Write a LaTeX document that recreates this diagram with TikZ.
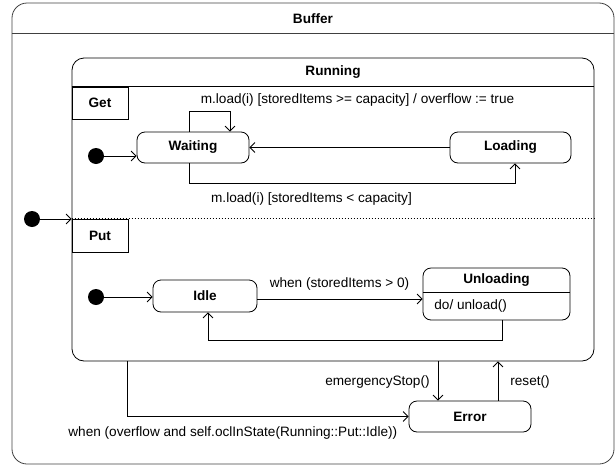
\documentclass[tikz,border=0pt]{standalone}
\usepackage{fontspec}
\setmainfont{Liberation Sans}
\usetikzlibrary{arrows.meta}

\begin{document}
\begin{tikzpicture}[x=1pt,y=-1pt,line width=0.8pt,font=\fontsize{13.6}{16}\selectfont,
  state/.style={draw, rounded corners=8pt, minimum height=31pt, inner sep=0pt, font=\fontsize{13.6}{16}\selectfont\bfseries},
  initial/.style={circle, fill=black, minimum size=16pt, inner sep=0pt},
  tab/.style={draw, minimum width=56pt, inner sep=0pt, font=\fontsize{13.6}{16}\selectfont\bfseries},
  title/.style={font=\fontsize{13.6}{16}\selectfont\bfseries, inner sep=0pt},
  lbl/.style={inner sep=0pt},
  trans/.style={-{Straight Barb[length=5pt,width=10pt]}}]
   \useasboundingbox (0,0) rectangle (615,466);

   \node[draw=black!75, rounded corners=15pt, minimum width=602pt, minimum height=461pt] (buffer) at (313,233.5) {};
   \draw[black!75] ([yshift=-31pt]buffer.north west) -- ([yshift=-31pt]buffer.north east);
   \node[title] (buftitle) at (313,18.5) {Buffer};

   \node[draw, rounded corners=12pt, minimum width=522pt, minimum height=303pt] (running) at (333,209.5) {};
   \draw ([yshift=-29pt]running.north west) -- ([yshift=-29pt]running.north east);
   \draw[dash pattern=on 1pt off 2pt] ([yshift=-161pt]running.north west) -- ([yshift=-161pt]running.north east);
   \node[title] (runtitle) at (333,72.5) {Running};

   \node[tab, minimum height=32pt] (get) at (100,103) {Get};
   \node[tab, minimum height=33pt] (put) at (100,235.5) {Put};

   \node[initial] (buf0) at (32,219) {};
   \node[initial] (get0) at (96,156) {};
   \node[initial] (put0) at (96,297) {};

   \node[state, minimum width=112pt] (waiting) at (193,147.5) {Waiting};
   \node[state, minimum width=121pt] (loading) at (510.5,147.5) {Loading};
   \node[state, minimum width=104pt, minimum height=32pt] (idle) at (205,296) {Idle};
   \node[state, minimum width=147pt, minimum height=52pt] (unloading) at (496.5,294) {};
   \draw ([yshift=2pt]unloading.west) -- ([yshift=2pt]unloading.east);
   \node[title] (unltitle) at (496.5,280) {Unloading};
   \node[lbl, anchor=west] (unldo) at (434,306) {do/ unload()};
   \node[state, minimum width=122pt] (error) at (470,416.5) {Error};

   \draw[trans] (buf0) -- (buf0 -| running.west);
   \draw[trans] (get0) -- (get0 -| waiting.west);
   \draw[trans] (loading.west) -- (waiting.east);
   \draw[trans] ([xshift=-4pt]waiting.north) -- ++(0,-20) -| ([xshift=37pt]waiting.north);
   \draw[trans] ([xshift=-4pt]waiting.south) -- ++(0,20) -| ([xshift=4.5pt]loading.south);
   \draw[trans] (put0) -- (put0 -| idle.west);
   \draw[trans] ([yshift=-3pt]idle.east) -- ([yshift=-3pt]idle.east -| unloading.west);
   \draw[trans] ([xshift=5.5pt]unloading.south) -- ++(0,20) -| ([xshift=3pt]idle.south);
   \draw[trans] ([xshift=-32pt]error.north |- running.south) -- ([xshift=-32pt]error.north);
   \draw[trans] ([xshift=28pt]error.north) -- ([xshift=28pt]error.north |- running.south);
   \draw[trans] ([xshift=56pt]running.south west) |- (error.west);

   \node[lbl] (lblfull) at (357.5,100) {m.load(i) [storedItems >= capacity] / overflow := true};
   \node[lbl] (lblload) at (311.5,199) {m.load(i) [storedItems < capacity]};
   \node[lbl] (lblwhen) at (339.5,284) {when (storedItems > 0)};
   \node[lbl, anchor=east] (lblstop) at (430,382) {emergencyStop()};
   \node[lbl, anchor=west] (lblreset) at (510,382) {reset()};
   \node[lbl, anchor=west] (lblovf) at (68,433) {when (overflow and self.oclInState(Running::Put::Idle))};
\end{tikzpicture}
\end{document}
